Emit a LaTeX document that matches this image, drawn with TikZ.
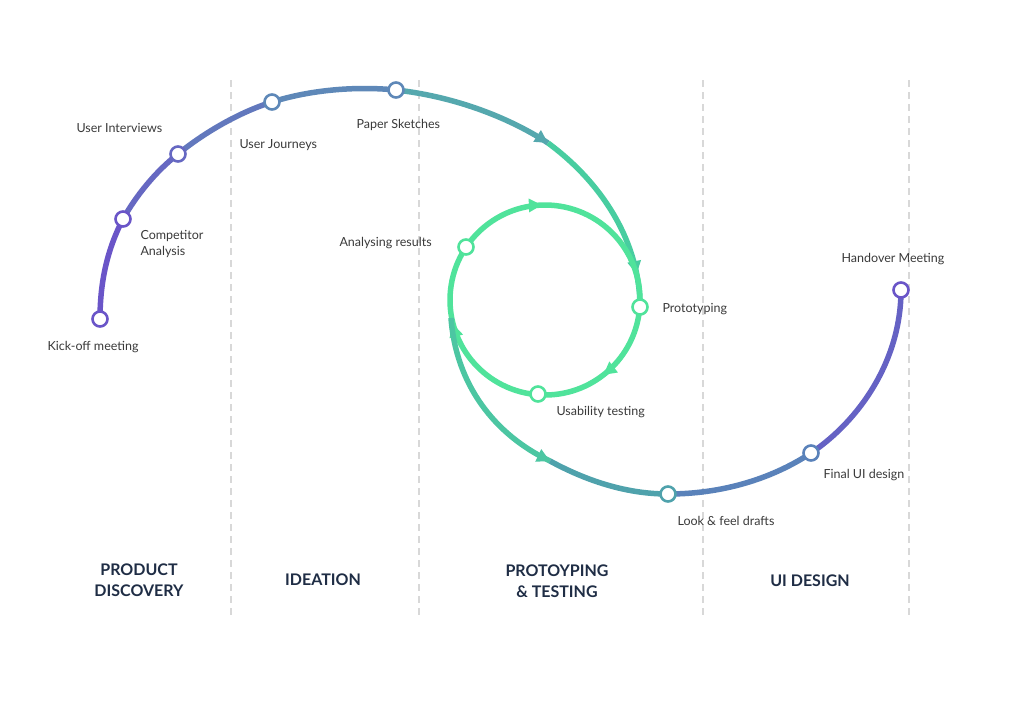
\documentclass[tikz,border=0pt]{standalone}
\usepackage{fontspec}
\setmainfont{Lato}
\usetikzlibrary{arrows.meta,decorations.markings}
\definecolor{pA}{HTML}{6A55C8}
\definecolor{pB}{HTML}{6668C2}
\definecolor{pC}{HTML}{5E88B8}
\definecolor{pD}{HTML}{55A8AE}
\definecolor{pE}{HTML}{48CDA0}
\definecolor{gr}{HTML}{50E39B}
\definecolor{bA}{HTML}{4CC6A2}
\definecolor{bB}{HTML}{4FA2AC}
\definecolor{bC}{HTML}{5A82BA}
\definecolor{txt}{HTML}{3A3A3A}
\definecolor{ttl}{HTML}{1F2D45}
\definecolor{dsh}{HTML}{D8D8D8}
\begin{document}
\begin{tikzpicture}[x=1pt,y=-1pt,
  sp/.style={line width=5.5pt},
  mk/.style={circle,draw=#1,fill=white,line width=2.6pt,minimum size=15pt,inner sep=0pt},
  lb/.style={anchor=west,font=\fontsize{12.5}{16}\selectfont,text=txt,align=left},
  tt/.style={font=\fontsize{16}{21}\selectfont\bfseries,text=ttl,align=center},
  dl/.style={draw=dsh,line width=1.4pt,dash pattern=on 7pt off 5pt},
  ar/.style={decoration={markings,mark=at position #1 with {\arrow{Triangle[length=13pt,width=13pt]}}},postaction={decorate}}]
\useasboundingbox[fill=white] (0,0) rectangle (1024,707);
% dashed separators
\foreach \x/\n in {231/a,419/b,703/c,909/d}{
  \coordinate (t\n) at (\x,80); \coordinate (u\n) at (\x,615);
  \draw[dl] (t\n) -- (u\n);}
% coordinates
\coordinate (k) at (100,319);
\coordinate (ca) at (123,219);
\coordinate (ui) at (178,154);
\coordinate (uj) at (272,102);
\coordinate (ps) at (396,90);
\coordinate (a1) at (548,143);
\coordinate (pr) at (640,307);
\coordinate (cc) at (545,300);
\coordinate (cl) at (451,318);
\coordinate (a2) at (550,461);
\coordinate (lf) at (668,494);
\coordinate (fu) at (811,453);
\coordinate (ho) at (901,290);
% spiral outer
\draw[sp,pA] (k) .. controls (100,280) and (108,248) .. (ca);
\draw[sp,pB] (ca) .. controls (136,196) and (155,172) .. (ui);
\draw[sp,pB!50!pC] (ui) .. controls (205,132) and (240,112) .. (uj);
\draw[sp,pC] (uj) .. controls (310,90) and (355,86) .. (ps);
\draw[sp,pD,ar=1] (ps) .. controls (450,96) and (505,115) .. (a1);
\draw[sp,pE,ar=0.83] (a1) .. controls (605,185) and (640,245) .. (pr);
% inner circle
\draw[sp,gr,decoration={markings,
   mark=at position 0.135 with {\arrow{Triangle[length=13pt,width=13pt]}},
   mark=at position 0.45 with {\arrow{Triangle[length=13pt,width=13pt]}},
   mark=at position 0.735 with {\arrow{Triangle[length=13pt,width=13pt]}}},postaction={decorate}]
  (cc) ++(3.5:95) arc[start angle=3.5,end angle=363.5,radius=95];
% outer bottom
\draw[sp,bA,ar=1] (cl) .. controls (456,385) and (495,435) .. (a2);
\draw[sp,bB] (a2) .. controls (585,480) and (625,494) .. (lf);
\draw[sp,bC] (lf) .. controls (720,494) and (770,480) .. (fu);
\draw[sp,pA!70!bC] (fu) .. controls (860,420) and (901,360) .. (ho);
% marks
\node[mk=pA] (nk) at (k) {};
\node[mk=pA] (nca) at (ca) {};
\node[mk=pB] (nui) at (ui) {};
\node[mk=pC] (nuj) at (uj) {};
\node[mk=pC] (nps) at (ps) {};
\node[mk=gr] (npr) at (pr) {};
\node[mk=gr] (nut) at (538,394) {};
\node[mk=gr] (nar) at (466,247) {};
\node[mk=bB] (nlf) at (lf) {};
\node[mk=bC] (nfu) at (fu) {};
\node[mk=pA] (nho) at (ho) {};
% labels
\node[lb] (l1) at (44,347) {Kick-off meeting};
\node[lb] (l2) at (137,244) {Competitor\\Analysis};
\node[lb] (l3) at (73,128) {User Interviews};
\node[lb] (l4) at (236,145) {User Journeys};
\node[lb] (l5) at (353,125) {Paper Sketches};
\node[lb] (l6) at (336,243) {Analysing results};
\node[lb] (l7) at (659,309) {Prototyping};
\node[lb] (l8) at (553,412) {Usability testing};
\node[lb] (l9) at (838,259) {Handover Meeting};
\node[lb] (l10) at (820,475) {Final UI design};
\node[lb] (l11) at (674,521) {Look \& feel drafts};
% titles
\node[tt] (s1) at (139,580) {PRODUCT\\DISCOVERY};
\node[tt] (s2) at (323,580) {IDEATION};
\node[tt] (s3) at (557,581) {PROTOYPING\\\& TESTING};
\node[tt] (s4) at (810,581) {UI DESIGN};
\end{tikzpicture}
\end{document}
